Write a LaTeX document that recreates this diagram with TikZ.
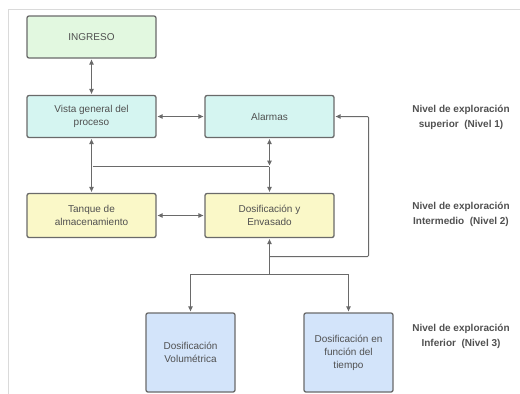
\documentclass[tikz,border=0pt]{standalone}
\usepackage{fontspec}
\setmainfont{Liberation Sans}
\usetikzlibrary{arrows.meta}

\definecolor{linegray}{HTML}{6A6A6A}
\definecolor{textgray}{HTML}{505050}
\definecolor{framegray}{HTML}{DADADA}
\definecolor{fillgreen}{HTML}{E2F8E0}
\definecolor{fillcyan}{HTML}{D5F5F1}
\definecolor{fillyellow}{HTML}{FAF8C8}
\definecolor{fillblue}{HTML}{D3E4FA}

\tikzset{
  box/.style={draw=linegray, line width=1.3pt, rounded corners=2pt,
    minimum width=129pt, minimum height=42pt, align=center,
    text=textgray, font=\fontsize{10}{13}\selectfont},
  tallbox/.style={box, minimum width=89pt, minimum height=79pt},
  link/.style={draw=linegray, line width=1pt,
    >={Triangle[length=5pt,width=4.5pt]}, shorten <=1pt, shorten >=1pt},
  levellabel/.style={align=center, text=textgray,
    font=\fontsize{10}{15}\selectfont\bfseries}
}

\begin{document}
\begin{tikzpicture}[x=1pt, y=-1pt]

    \useasboundingbox (0,0) rectangle (520,394);

    % Frame
    \draw[framegray, line width=0.8pt] (8,394) -- (8,9) -- (520,9);

    % Level 1
    \node[box, fill=fillgreen] (ingreso) at (91.5,37) {INGRESO};
    \node[box, fill=fillcyan] (vista) at (91.5,116.5) {Vista general del\\proceso};
    \node[box, fill=fillcyan] (alarmas) at (269.5,116.5) {Alarmas};

    % Level 2
    \node[box, fill=fillyellow, minimum height=44pt] (tanque) at (91.5,215.5) {Tanque de\\almacenamiento};
    \node[box, fill=fillyellow, minimum height=44pt] (dosif) at (269.5,215.5) {Dosificación y\\Envasado};

    % Level 3
    \node[tallbox, fill=fillblue] (volum) at (190.5,352.5) {Dosificación\\Volumétrica};
    \node[tallbox, fill=fillblue] (tiempo) at (348.5,352.5) {Dosificación en\\función del\\tiempo};

    % Labels
    \node[levellabel] (nivel1) at (461,117) {Nivel de exploración\\superior\ \ (Nivel 1)};
    \node[levellabel] (nivel2) at (461,214) {Nivel de exploración\\Intermedio\ \ (Nivel 2)};
    \node[levellabel] (nivel3) at (461,336) {Nivel de exploración\\Inferior\ \ (Nivel 3)};

    % Junctions
    \coordinate (jtop) at (269.5,166.5);
    \coordinate (jmid) at (269.5,256.5);
    \coordinate (jright) at (368.5,256.5);
    \coordinate (jlow) at (269.5,274.5);

    % Connectors
    \draw[link, <->] (ingreso) -- (vista);
    \draw[link, <->] (vista) -- (alarmas);
    \draw[link, <->] (vista) -- (tanque);
    \draw[link] (vista.south |- jtop) -- (jtop);
    \draw[link, <->] (alarmas) -- (jtop);
    \draw[link, ->, shorten <=0pt] (jtop) -- (dosif);
    \draw[link, <->] (tanque) -- (dosif);
    \draw[link, ->, shorten <=0pt] (jmid) -- (dosif);
    \draw[link, ->, shorten <=0pt, rounded corners=1pt] (jmid) -- (jright) |- (alarmas);
    \draw[link, shorten <=0pt, shorten >=0pt] (jmid) -- (jlow);
    \draw[link, ->, shorten <=0pt] (jlow) -| (volum);
    \draw[link, ->, shorten <=0pt] (jlow) -| (tiempo);

\end{tikzpicture}
\end{document}
